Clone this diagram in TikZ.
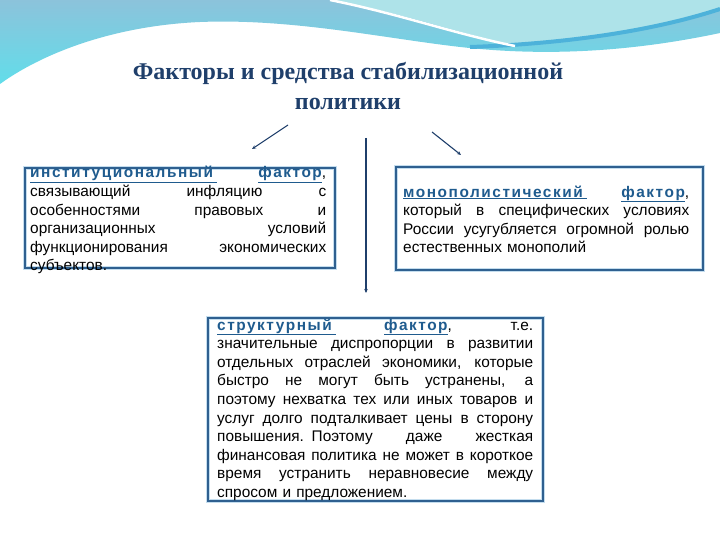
\documentclass[tikz,border=0pt]{standalone}
\usepackage{fontspec}
\setmainfont{Liberation Sans}
\newfontfamily\titlefont{Liberation Serif}
\usetikzlibrary{arrows.meta}
\definecolor{navy}{HTML}{1F3F6B}
\definecolor{boxline}{HTML}{2F6090}
\definecolor{glow}{HTML}{C4DDEE}
\definecolor{headblue}{HTML}{1F5B8E}
\definecolor{skytop}{HTML}{8CC3DB}
\definecolor{skybottom}{HTML}{62DDEA}
\definecolor{paleaqua}{HTML}{AEE3E9}
\definecolor{swoosh}{HTML}{4DB2DA}
\newcommand{\hd}[1]{{\color{headblue}\underline{\bfseries\addfontfeature{LetterSpace=10}#1}}}
\newcommand{\jline}[1]{\leavevmode\hbox to\hsize{\spaceskip=.28em plus 1fil\relax #1}}
\begin{document}
\begin{tikzpicture}[x=1pt,y=-1pt,
    factortext/.style={anchor=base west,inner sep=0pt,align=left,
      font=\fontsize{15.4}{18.6}\selectfont},
    factorbox/.style={draw=boxline,line width=1.6pt},
    arr/.style={draw=navy,line width=1.1pt,-{Stealth[length=4pt,width=3.5pt]}}]
  \useasboundingbox (0,0) rectangle (720,540);
  % background wave
  \shade[top color=skytop,bottom color=skybottom]
    (0,0) -- (720,0) -- (720,33) .. controls (640,50) and (560,56) .. (480,49)
    .. controls (400,42) and (300,18) .. (200,22)
    .. controls (110,26) and (40,55) .. (0,84) -- cycle;
  \fill[paleaqua] (330,0) .. controls (400,12) and (455,32) .. (512,45)
    .. controls (580,40) and (660,28) .. (720,8) -- (720,0) -- cycle;
  \draw[swoosh,line width=4pt] (470,47) .. controls (560,44) and (650,32) .. (720,9);
  \draw[white,line width=2.5pt] (330,0) .. controls (400,14) and (455,34) .. (515,46);
  % title
  \node[font=\titlefont\bfseries\fontsize{24}{30}\selectfont,text=navy,align=center,
    anchor=base] (title) at (348,110) {Факторы и средства стабилизационной\\политики};
  % arrows
  \coordinate (instfrom) at (288,125);
  \coordinate (instto) at (252,149);
  \coordinate (structfrom) at (366,138);
  \coordinate (structto) at (366,293);
  \coordinate (monofrom) at (432,132);
  \coordinate (monoto) at (461,155);
  \draw[arr] (instfrom) -- (instto);
  \draw[arr] (structfrom) -- (structto);
  \draw[arr] (monofrom) -- (monoto);
  % boxes
  \draw[glow,line width=4pt] (25,168) rectangle (335,268);
  \draw[factorbox] (25,168) rectangle (335,268);
  \draw[glow,line width=4pt] (396,167) rectangle (703,270);
  \draw[factorbox] (396,167) rectangle (703,270);
  \draw[glow,line width=4pt] (208,318) rectangle (543,501);
  \draw[factorbox] (208,318) rectangle (543,501);
  % texts
  \node[factortext,text width=296pt] (insttext) at (30,178) {%
    \jline{\hd{институциональный\ } \hd{фактор},}\\
    \jline{связывающий инфляцию с}\\
    \jline{особенностями правовых и}\\
    \jline{организационных условий}\\
    \jline{функционирования экономических}\\
    субъектов.};
  \node[factortext,text width=286pt] (monotext) at (403,197) {%
    \jline{\hd{монополистический\ } \hd{фактор},}\\
    \jline{который в специфических условиях}\\
    \jline{России усугубляется огромной ролью}\\
    естественных монополий};
  \node[factortext,text width=316pt] (structtext) at (217,330) {%
    \jline{\hd{структурный\ } \hd{фактор}, т.е.}\\
    \jline{значительные диспропорции в развитии}\\
    \jline{отдельных отраслей экономики, которые}\\
    \jline{быстро не могут быть устранены, а}\\
    \jline{поэтому нехватка тех или иных товаров и}\\
    \jline{услуг долго подталкивает цены в сторону}\\
    \jline{повышения. Поэтому даже жесткая}\\
    \jline{финансовая политика не может в короткое}\\
    \jline{время устранить неравновесие между}\\
    спросом и предложением.};
\end{tikzpicture}
\end{document}
